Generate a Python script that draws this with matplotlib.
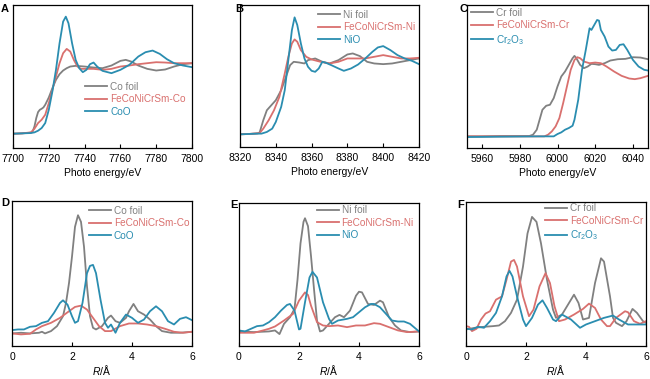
import matplotlib
matplotlib.use("Agg")
import matplotlib.pyplot as plt

plt.rcParams['font.family'] = ['Liberation Sans', 'DejaVu Sans']
plt.rcParams['mathtext.default'] = 'regular'
plt.rcParams['mathtext.fontset'] = 'custom'
plt.rcParams['mathtext.it'] = 'Liberation Sans:italic'
plt.rcParams['mathtext.rm'] = 'Liberation Sans'

GRAY = '#808080'
RED = '#d9706e'
TEAL = '#2a8db0'

# ---------- Panel A: Co K-edge XANES ----------
a_co_x = [7700, 7705, 7710, 7711, 7712, 7713, 7714, 7715, 7716, 7717, 7718, 7720, 7722, 7724, 7726, 7728, 7730,
          7732, 7735, 7740, 7745, 7750, 7755, 7760, 7763, 7766, 7770, 7775, 7780, 7785, 7790, 7795, 7800]
a_co_y = [43, 44, 46, 50, 65, 90, 108, 115, 118, 122, 130, 152, 180, 205, 222, 233, 240,
          245, 247, 245, 242, 240, 248, 262, 265, 260, 248, 238, 233, 236, 245, 252, 255]
a_s_x = [7700, 7705, 7710, 7712, 7714, 7716, 7718, 7720, 7722, 7724, 7726, 7728, 7730, 7732, 7734, 7736, 7738,
         7740, 7745, 7750, 7755, 7760, 7765, 7770, 7775, 7780, 7785, 7790, 7795, 7800]
a_s_y = [43, 44, 47, 58, 75, 85, 100, 135, 175, 215, 255, 285, 298, 290, 265, 245, 238,
         238, 238, 235, 238, 245, 248, 252, 255, 258, 257, 255, 255, 255]
a_o_x = [7700, 7705, 7710, 7712, 7714, 7716, 7718, 7720, 7722, 7724, 7726, 7728, 7729.5, 7731, 7733, 7735, 7737,
         7739, 7741, 7743, 7745, 7747, 7750, 7755, 7760, 7765, 7770, 7774, 7778, 7782, 7786, 7790, 7795, 7800]
a_o_y = [43, 44, 45, 47, 52, 60, 75, 115, 170, 235, 315, 380, 395, 375, 315, 265, 240,
         228, 235, 252, 257, 245, 232, 225, 235, 250, 275, 288, 293, 283, 267, 255, 248, 243]

# ---------- Panel B: Ni K-edge XANES ----------
b_ni_x = [8320, 8325, 8330, 8331, 8333, 8335, 8337, 8340, 8343, 8346, 8348, 8350, 8353, 8356, 8358, 8362,
          8366, 8370, 8375, 8380, 8383, 8387, 8391, 8395, 8400, 8405, 8410, 8415, 8420]
b_ni_y = [38, 39, 41, 44, 80, 110, 122, 140, 170, 215, 245, 255, 253, 250, 260, 265,
          255, 250, 260, 277, 280, 272, 255, 250, 248, 250, 255, 260, 265]
b_s_x = [8320, 8325, 8330, 8331, 8333, 8336, 8339, 8342, 8345, 8347, 8349, 8350.5, 8352, 8354, 8357, 8360,
         8365, 8370, 8375, 8380, 8385, 8390, 8395, 8400, 8405, 8410, 8415, 8420]
b_s_y = [38, 39, 41, 42, 55, 80, 110, 150, 220, 270, 310, 322, 315, 290, 270, 262,
         255, 250, 255, 265, 265, 265, 270, 275, 270, 265, 265, 267]
b_o_x = [8320, 8325, 8330, 8332, 8335, 8338, 8340, 8343, 8345, 8347, 8349, 8350.5, 8352, 8354, 8356, 8358,
         8360, 8362, 8364, 8366, 8368, 8371, 8375, 8378, 8382, 8386, 8390, 8394, 8397, 8400, 8404, 8408,
         8412, 8416, 8420]
b_o_y = [38, 39, 40, 40, 45, 55, 75, 120, 170, 260, 350, 388, 365, 310, 265, 240,
         228, 225, 235, 255, 252, 245, 235, 228, 235, 247, 265, 285, 298, 302, 290, 275,
         265, 258, 248]

# ---------- Panel C: Cr K-edge XANES ----------
c_cr_x = [5952, 5960, 5970, 5980, 5985, 5987, 5989, 5990, 5992, 5994, 5996, 5998, 6000, 6002, 6004, 6006,
          6008, 6009, 6010, 6012, 6014, 6016, 6018, 6020, 6022, 6025, 6028, 6032, 6036, 6040, 6044, 6048]
c_cr_y = [35, 35, 36, 36, 36, 40, 55, 75, 115, 127, 130, 150, 185, 215, 230, 250,
          270, 277, 270, 250, 240, 245, 253, 252, 250, 255, 263, 267, 268, 273, 272, 267]
c_s_x = [5952, 5970, 5985, 5993, 5995, 5997, 5999, 6001, 6003, 6005, 6007, 6009, 6010.5, 6012, 6014, 6017,
         6020, 6023, 6026, 6030, 6034, 6038, 6041, 6044, 6048]
c_s_y = [35, 35, 35, 35, 40, 50, 65, 90, 135, 185, 235, 265, 273, 270, 260, 255,
         257, 255, 245, 230, 217, 209, 207, 210, 217]
c_o_x = [5952, 5970, 5990, 5998, 6000, 6002, 6004, 6006, 6008, 6009, 6011, 6013, 6015, 6017, 6018, 6019,
         6021, 6022, 6023, 6025, 6027, 6029, 6031, 6033, 6035, 6037, 6040, 6043, 6046, 6048]
c_o_y = [33, 34, 35, 35, 42, 47, 55, 60, 67, 85, 145, 235, 295, 360, 355, 365,
         385, 383, 355, 335, 305, 293, 295, 310, 312, 295, 265, 245, 235, 233]

# ---------- Panel D: Co FT-EXAFS ----------
d_co_x = [0, 0.3, 0.6, 0.9, 1.0, 1.1, 1.3, 1.5, 1.7, 1.8, 1.9, 2.0, 2.1, 2.2, 2.3, 2.4, 2.5, 2.6, 2.7, 2.8,
          3.0, 3.2, 3.3, 3.45, 3.6, 3.8, 3.9, 4.05, 4.2, 4.4, 4.6, 4.8, 5.0, 5.3, 5.6, 6.0]
d_co_y = [38, 40, 38, 40, 43, 38, 45, 60, 90, 130, 190, 270, 360, 395, 375, 300, 180, 90, 55, 50,
          60, 85, 92, 75, 70, 85, 105, 127, 105, 95, 80, 60, 45, 40, 40, 43]
d_s_x = [0, 0.3, 0.6, 0.8, 1.0, 1.3, 1.6, 1.9, 2.1, 2.3, 2.5, 2.7, 2.9, 3.1, 3.3, 3.6, 3.9, 4.2, 4.5, 4.8,
         5.1, 5.4, 5.7, 6.0]
d_s_y = [38, 35, 37, 50, 60, 70, 85, 105, 118, 122, 110, 85, 60, 45, 45, 60, 68, 68, 65, 60,
         52, 43, 40, 43]
d_o_x = [0, 0.2, 0.4, 0.6, 0.8, 1.0, 1.2, 1.4, 1.6, 1.7, 1.85, 2.0, 2.1, 2.2, 2.35, 2.5, 2.6, 2.7, 2.8,
         2.95, 3.1, 3.2, 3.3, 3.45, 3.6, 3.8, 4.0, 4.2, 4.4, 4.6, 4.8, 5.0, 5.2, 5.4, 5.6, 5.8, 6.0]
d_o_y = [48, 50, 50, 58, 60, 70, 75, 100, 130, 138, 125, 90, 70, 75, 130, 220, 242, 245, 220,
         140, 70, 55, 65, 40, 70, 95, 85, 70, 80, 105, 120, 105, 75, 65, 82, 87, 78]

# ---------- Panel E: Ni FT-EXAFS ----------
e_ni_x = [0, 0.5, 1.0, 1.2, 1.35, 1.5, 1.7, 1.85, 1.95, 2.05, 2.15, 2.2, 2.3, 2.4, 2.5, 2.6, 2.7, 2.8,
          3.0, 3.2, 3.35, 3.5, 3.7, 3.9, 4.0, 4.1, 4.3, 4.5, 4.7, 4.8, 5.0, 5.2, 5.4, 5.7, 6.0]
e_ni_y = [44, 42, 44, 47, 36, 67, 87, 112, 200, 310, 375, 386, 362, 272, 172, 77, 44, 47,
          67, 87, 94, 87, 107, 152, 164, 162, 127, 124, 137, 132, 87, 62, 47, 42, 44]
e_s_x = [0, 0.5, 0.8, 1.0, 1.2, 1.5, 1.8, 2.0, 2.2, 2.3, 2.4, 2.6, 2.8, 3.0, 3.3, 3.6, 3.9, 4.2, 4.5,
         4.7, 5.0, 5.3, 5.6, 6.0]
e_s_y = [40, 40, 47, 52, 59, 77, 97, 137, 162, 154, 122, 72, 62, 60, 62, 57, 62, 62, 69,
         67, 57, 47, 42, 44]
e_o_x = [0, 0.2, 0.4, 0.6, 0.8, 1.0, 1.2, 1.4, 1.6, 1.7, 1.85, 2.0, 2.05, 2.2, 2.35, 2.45, 2.6, 2.8,
         3.0, 3.1, 3.3, 3.6, 3.8, 4.0, 4.2, 4.4, 4.5, 4.7, 4.9, 5.1, 5.3, 5.5, 5.7, 6.0]
e_o_y = [47, 44, 52, 60, 62, 72, 87, 107, 124, 127, 107, 50, 52, 132, 207, 224, 207, 132,
         82, 67, 77, 82, 87, 102, 117, 127, 127, 117, 97, 77, 74, 74, 67, 44]

# ---------- Panel F: Cr FT-EXAFS ----------
f_cr_x = [0, 0.3, 0.6, 0.9, 1.1, 1.3, 1.5, 1.7, 1.9, 2.05, 2.2, 2.35, 2.5, 2.7, 2.9, 3.0, 3.2, 3.4,
          3.6, 3.75, 3.9, 4.1, 4.3, 4.5, 4.6, 4.8, 4.9, 5.0, 5.2, 5.35, 5.55, 5.7, 5.9, 6.0]
f_cr_y = [50, 55, 58, 60, 62, 75, 100, 140, 240, 340, 390, 375, 310, 200, 110, 85, 95, 125,
          155, 130, 80, 85, 190, 265, 255, 150, 85, 70, 60, 75, 112, 100, 75, 70]
f_s_x = [0, 0.1, 0.2, 0.35, 0.5, 0.65, 0.8, 1.0, 1.2, 1.35, 1.5, 1.6, 1.7, 1.9, 2.1, 2.25, 2.45, 2.65,
         2.8, 2.95, 3.1, 3.3, 3.6, 3.9, 4.1, 4.3, 4.5, 4.7, 4.8, 5.0, 5.3, 5.4, 5.6, 5.8, 6.0]
f_s_y = [60, 58, 45, 52, 80, 98, 105, 140, 150, 200, 255, 260, 240, 150, 90, 110, 180, 220,
         190, 120, 75, 80, 95, 112, 128, 115, 80, 60, 60, 85, 105, 102, 75, 67, 75]
f_o_x = [0, 0.2, 0.4, 0.6, 0.8, 1.0, 1.2, 1.35, 1.45, 1.55, 1.7, 1.9, 2.0, 2.2, 2.4, 2.55, 2.7, 2.9,
         3.0, 3.2, 3.5, 3.8, 4.0, 4.3, 4.6, 4.9, 5.1, 5.4, 5.7, 6.0]
f_o_y = [52, 50, 58, 55, 75, 100, 150, 210, 227, 210, 150, 80, 60, 85, 125, 138, 115, 80,
         75, 95, 80, 55, 65, 75, 85, 92, 80, 65, 65, 65]

XL_E = 'Photo energy/eV'
XL_R = '$\\mathit{R}$/Å'

panels = [
    dict(letter='A', rect=[13, 5, 192, 148], xlim=(7700, 7800), ylim=(0, 430),
         xticks=[7700, 7720, 7740, 7760, 7780, 7800],
         series=[(a_co_x, a_co_y, GRAY, 'Co foil'), (a_s_x, a_s_y, RED, 'FeCoNiCrSm-Co'),
                 (a_o_x, a_o_y, TEAL, 'CoO')],
         leg=(0.405, 0.342), xlabel=XL_E, lpos=(1, 9)),
    dict(letter='B', rect=[240, 5, 419, 147], xlim=(8320, 8420), ylim=(0, 425),
         xticks=[8320, 8340, 8360, 8380, 8400, 8420],
         series=[(b_ni_x, b_ni_y, GRAY, 'Ni foil'), (b_s_x, b_s_y, RED, 'FeCoNiCrSm-Ni'),
                 (b_o_x, b_o_y, TEAL, 'NiO')],
         leg=(0.437, 0.842), xlabel=XL_E, lpos=(235, 9)),
    dict(letter='C', rect=[467, 5, 648, 148], xlim=(5952, 6048), ylim=(0, 430),
         xticks=[5960, 5980, 6000, 6020, 6040],
         series=[(c_cr_x, c_cr_y, GRAY, 'Cr foil'), (c_s_x, c_s_y, RED, 'FeCoNiCrSm-Cr'),
                 (c_o_x, c_o_y, TEAL, 'Cr$_2$O$_3$')],
         leg=(0.024, 0.844), xlabel=XL_E, lpos=(459, 9)),
    dict(letter='D', rect=[12, 201, 192, 346], xlim=(0, 6), ylim=(0, 438),
         xticks=[0, 2, 4, 6],
         series=[(d_co_x, d_co_y, GRAY, 'Co foil'), (d_s_x, d_s_y, RED, 'FeCoNiCrSm-Co'),
                 (d_o_x, d_o_y, TEAL, 'CoO')],
         leg=(0.426, 0.845), xlabel=XL_R, lpos=(1, 203)),
    dict(letter='E', rect=[239, 203, 419, 346], xlim=(0, 6), ylim=(0, 432),
         xticks=[0, 2, 4, 6],
         series=[(e_ni_x, e_ni_y, GRAY, 'Ni foil'), (e_s_x, e_s_y, RED, 'FeCoNiCrSm-Ni'),
                 (e_o_x, e_o_y, TEAL, 'NiO')],
         leg=(0.431, 0.861), xlabel=XL_R, lpos=(230, 205)),
    dict(letter='F', rect=[466, 202, 646, 346], xlim=(0, 6), ylim=(0, 435),
         xticks=[0, 2, 4, 6],
         series=[(f_cr_x, f_cr_y, GRAY, 'Cr foil'), (f_s_x, f_s_y, RED, 'FeCoNiCrSm-Cr'),
                 (f_o_x, f_o_y, TEAL, 'Cr$_2$O$_3$')],
         leg=(0.439, 0.857), xlabel=XL_R, lpos=(457, 205)),
]

W, H = 650, 379
fig = plt.figure(figsize=(W / 100, H / 100), dpi=100)
FS = 7.5

for p in panels:
    x0, y0, x1, y1 = p['rect']
    ax = fig.add_axes([x0 / W, 1 - y1 / H, (x1 - x0) / W, (y1 - y0) / H])
    for xs, ys, c, lab in p['series']:
        ax.plot(xs, ys, color=c, lw=1.3, label=lab)
    ax.set_xlim(*p['xlim'])
    ax.set_ylim(*p['ylim'])
    ax.set_xticks(p['xticks'])
    ax.set_yticks([])
    ax.tick_params(axis='x', direction='in', length=3, width=0.8, labelsize=FS, pad=4)
    for s in ax.spines.values():
        s.set_linewidth(0.9)
    ax.set_xlabel(p['xlabel'], fontsize=FS, labelpad=1 if p['xlabel'] == XL_R else 3)
    leg = ax.legend(loc='center left', bbox_to_anchor=p['leg'], frameon=False, fontsize=7.2,
                    handlelength=2.2, handletextpad=0.3, labelspacing=0.25, borderpad=0,
                    borderaxespad=0)
    for t, (_, _, c, _) in zip(leg.get_texts(), p['series']):
        t.set_color(c)
    fig.text(p['lpos'][0] / W, 1 - p['lpos'][1] / H, p['letter'], fontsize=8, fontweight='bold',
             ha='left', va='center')

fig.savefig('out.png', dpi=100)
